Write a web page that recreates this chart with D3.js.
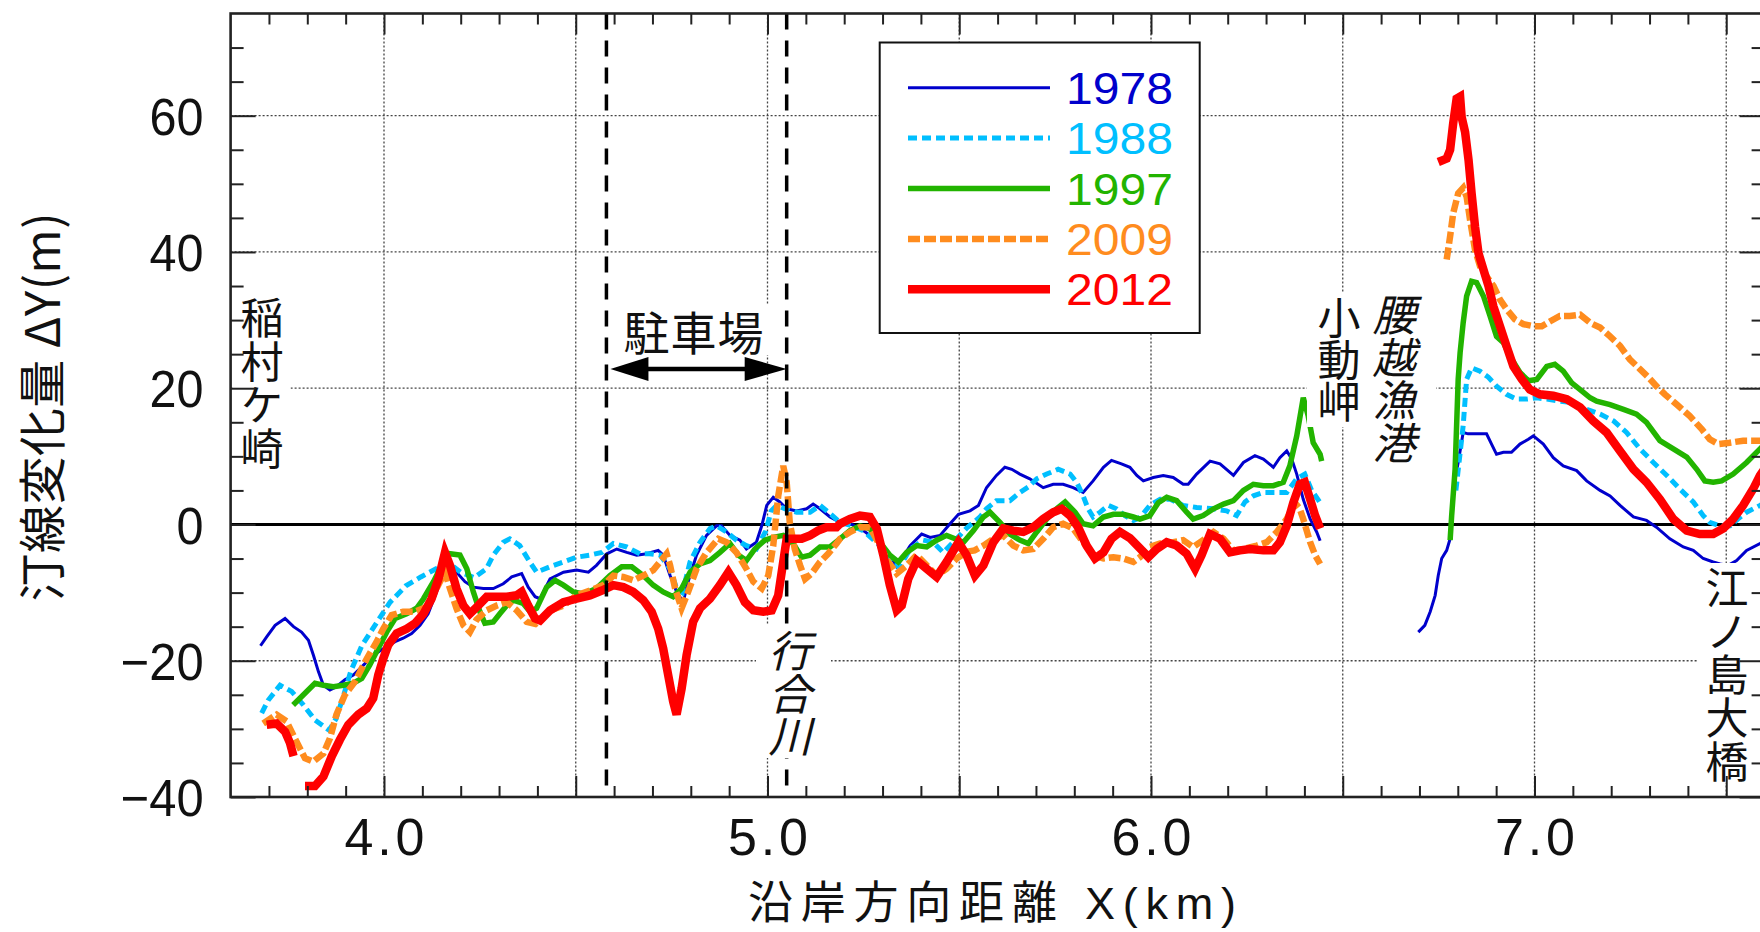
<!DOCTYPE html>
<html>
<head>
<meta charset="utf-8">
<script src="https://cdn.jsdelivr.net/npm/d3@7"></script>
<style>
  body { margin: 0; background: #fff; }
  svg { display: block; }
</style>
</head>
<body>
<svg id="chart" width="1760" height="932"></svg>
<script>
// ---- Data: shoreline change ΔY (m) along the coast X (km) ----
const years = ["1978", "1988", "1997", "2009", "2012"];

const y1978West = [[3.678,-17.8],[3.694,-16.5],[3.716,-14.8],[3.742,-13.8],[3.764,-15.0],[3.785,-15.8],[3.803,-17.0],[3.816,-19.2],[3.829,-21.6],[3.842,-23.6],[3.859,-24.3],[3.876,-23.8],[3.898,-22.8],[3.920,-22.1],[3.942,-20.9],[3.963,-19.7],[3.985,-18.7],[4.007,-17.9],[4.029,-17.2],[4.050,-16.7],[4.072,-16.0],[4.094,-14.8],[4.115,-13.1],[4.137,-9.9],[4.155,-7.0],[4.170,-5.5],[4.189,-7.0],[4.211,-8.4],[4.233,-9.2],[4.259,-9.4],[4.285,-9.4],[4.311,-8.7],[4.333,-7.7],[4.359,-7.2],[4.376,-9.2],[4.394,-10.6],[4.407,-10.9],[4.433,-8.0],[4.468,-7.0],[4.502,-6.7],[4.533,-7.0],[4.554,-6.0],[4.581,-4.3],[4.607,-3.6],[4.633,-4.1],[4.659,-4.5],[4.685,-4.3],[4.715,-3.8],[4.728,-4.5],[4.746,-7.5],[4.763,-9.9],[4.780,-11.4],[4.793,-8.4],[4.815,-4.5],[4.841,-1.6],[4.867,-0.2],[4.880,-0.2],[4.902,-1.6],[4.928,-2.3],[4.945,-3.6],[4.971,-2.6],[4.985,-0.2],[4.998,2.8],[5.015,4.0],[5.032,3.3],[5.050,2.3],[5.076,2.0],[5.102,2.3],[5.119,3.0],[5.137,2.3],[5.163,1.1],[5.189,0.3],[5.220,0.0],[5.250,-0.9],[5.290,-2.6],[5.315,-4.1],[5.337,-6.2],[5.372,-3.1],[5.402,-1.4],[5.424,-1.9],[5.450,-1.6],[5.476,0.1],[5.498,1.5],[5.528,2.0],[5.550,2.8],[5.571,5.4],[5.597,7.2],[5.619,8.4],[5.637,8.1],[5.658,7.4],[5.684,6.7],[5.719,5.4],[5.745,5.9],[5.771,5.9],[5.797,5.4],[5.823,4.7],[5.849,6.4],[5.876,8.4],[5.897,9.4],[5.923,8.9],[5.945,8.4],[5.963,7.2],[5.980,6.4],[6.006,6.9],[6.032,7.2],[6.058,6.9],[6.084,5.9],[6.097,5.9],[6.119,7.4],[6.154,9.3],[6.180,8.9],[6.215,7.2],[6.241,9.1],[6.271,10.1],[6.293,9.6],[6.319,8.4],[6.336,9.8],[6.354,10.8],[6.367,9.6],[6.380,7.4],[6.397,3.7],[6.415,0.8],[6.432,-1.1],[6.441,-2.4]];
const y1978East = [[6.697,-15.8],[6.714,-14.8],[6.728,-12.8],[6.741,-10.4],[6.749,-7.5],[6.758,-5.0],[6.771,-3.8],[6.780,-2.1],[6.788,5.2],[6.801,9.1],[6.814,13.5],[6.827,13.3],[6.849,13.3],[6.875,13.3],[6.888,11.8],[6.901,10.3],[6.919,10.6],[6.940,10.6],[6.962,11.8],[6.984,12.5],[6.997,13.0],[7.023,11.8],[7.049,9.8],[7.075,8.6],[7.110,7.9],[7.136,6.4],[7.171,5.0],[7.197,4.2],[7.223,2.8],[7.258,1.1],[7.292,0.6],[7.318,-0.4],[7.353,-2.1],[7.388,-3.3],[7.414,-3.8],[7.440,-5.0],[7.466,-5.5],[7.484,-5.8],[7.505,-6.0],[7.527,-5.3],[7.553,-3.8],[7.588,-2.8],[7.610,-2.0]];

const y1988West = [[3.681,-27.7],[3.698,-25.8],[3.729,-23.6],[3.759,-24.5],[3.790,-26.5],[3.820,-28.7],[3.857,-30.2],[3.875,-28.5],[3.892,-25.6],[3.913,-21.6],[3.942,-17.8],[3.982,-14.3],[4.016,-11.4],[4.057,-9.0],[4.096,-7.7],[4.136,-6.5],[4.165,-5.5],[4.200,-7.0],[4.235,-7.8],[4.267,-6.5],[4.285,-4.5],[4.311,-2.6],[4.328,-2.1],[4.354,-3.1],[4.380,-5.5],[4.398,-7.0],[4.433,-6.2],[4.468,-5.5],[4.502,-4.8],[4.537,-4.5],[4.568,-4.1],[4.598,-2.8],[4.633,-3.3],[4.667,-4.3],[4.693,-4.3],[4.720,-4.5],[4.746,-6.5],[4.763,-9.4],[4.778,-10.0],[4.798,-5.5],[4.824,-2.6],[4.850,-0.6],[4.867,-0.2],[4.893,-1.1],[4.919,-2.3],[4.945,-3.1],[4.971,-3.6],[4.995,-1.0],[5.010,2.0],[5.024,2.8],[5.050,2.2],[5.076,1.8],[5.111,1.8],[5.137,2.8],[5.163,1.6],[5.189,0.3],[5.220,-0.2],[5.250,-0.9],[5.293,-3.1],[5.328,-6.0],[5.345,-6.2],[5.372,-3.6],[5.406,-2.3],[5.432,-2.6],[5.458,-4.1],[5.493,-2.1],[5.520,-0.5],[5.554,1.1],[5.571,2.3],[5.597,3.5],[5.632,3.5],[5.658,4.7],[5.680,5.5],[5.702,6.7],[5.728,7.4],[5.758,8.1],[5.789,7.4],[5.806,6.2],[5.823,4.2],[5.836,2.3],[5.849,1.1],[5.867,1.8],[5.889,2.8],[5.910,2.3],[5.932,1.3],[5.954,0.6],[5.971,1.0],[5.997,2.8],[6.024,3.7],[6.050,3.7],[6.084,2.8],[6.119,2.5],[6.163,2.3],[6.197,2.0],[6.223,1.3],[6.245,3.3],[6.267,4.2],[6.293,4.7],[6.328,4.7],[6.354,4.7],[6.380,6.7],[6.401,7.4],[6.419,5.0],[6.441,3.2]];
const y1988East = [[6.795,5.0],[6.805,10.0],[6.814,14.5],[6.823,21.3],[6.836,23.0],[6.858,22.5],[6.880,21.6],[6.901,20.3],[6.927,19.1],[6.953,18.4],[6.979,18.4],[7.006,18.6],[7.032,18.4],[7.066,18.1],[7.101,17.9],[7.136,16.9],[7.171,16.2],[7.206,15.2],[7.240,13.5],[7.275,11.1],[7.310,9.1],[7.345,7.2],[7.379,5.2],[7.414,3.3],[7.440,1.3],[7.457,0.3],[7.483,-0.2],[7.510,-0.2],[7.530,0.8],[7.553,1.8],[7.588,2.8],[7.610,3.5]];

const y1997West = [[3.763,-26.5],[3.790,-25.0],[3.820,-23.3],[3.842,-23.6],[3.868,-23.8],[3.894,-23.6],[3.920,-23.3],[3.942,-22.6],[3.963,-20.6],[3.985,-18.2],[4.007,-15.8],[4.029,-13.8],[4.059,-13.1],[4.085,-12.3],[4.103,-10.9],[4.129,-8.4],[4.155,-5.5],[4.172,-4.3],[4.198,-4.5],[4.216,-6.5],[4.233,-9.9],[4.250,-12.8],[4.263,-14.5],[4.285,-14.3],[4.302,-13.1],[4.320,-11.9],[4.337,-11.1],[4.363,-11.6],[4.381,-12.8],[4.398,-12.3],[4.424,-9.2],[4.446,-8.2],[4.468,-8.9],[4.494,-9.9],[4.520,-10.2],[4.554,-9.4],[4.589,-7.5],[4.620,-6.2],[4.646,-6.2],[4.676,-7.5],[4.702,-8.9],[4.728,-9.9],[4.754,-10.6],[4.776,-9.4],[4.798,-7.0],[4.824,-5.8],[4.850,-5.3],[4.876,-4.1],[4.902,-2.8],[4.924,-4.5],[4.945,-5.3],[4.967,-3.6],[4.993,-2.3],[5.015,-1.9],[5.041,-1.6],[5.067,-2.8],[5.089,-4.8],[5.111,-4.5],[5.137,-3.3],[5.163,-3.3],[5.189,-2.1],[5.215,-0.9],[5.241,-0.2],[5.267,-0.6],[5.293,-2.6],[5.319,-4.5],[5.341,-5.5],[5.363,-4.1],[5.389,-3.1],[5.415,-3.3],[5.441,-2.3],[5.467,-1.6],[5.489,-2.1],[5.511,-2.6],[5.537,-0.9],[5.563,1.1],[5.580,1.8],[5.606,0.3],[5.632,-1.4],[5.658,-2.3],[5.680,-2.8],[5.702,-1.1],[5.728,0.8],[5.754,2.3],[5.776,3.3],[5.802,1.8],[5.823,0.1],[5.849,-0.2],[5.876,1.1],[5.902,1.5],[5.928,1.5],[5.954,1.1],[5.971,0.8],[5.997,1.3],[6.019,3.2],[6.041,4.0],[6.067,3.5],[6.093,1.8],[6.110,0.8],[6.136,1.3],[6.163,2.3],[6.189,3.0],[6.215,3.5],[6.241,5.0],[6.267,5.9],[6.293,5.7],[6.319,5.7],[6.345,6.2],[6.362,8.6],[6.380,13.0],[6.397,18.6],[6.410,15.9],[6.423,12.0],[6.441,10.3],[6.445,9.3]];
const y1997East = [[6.780,-2.3],[6.784,1.3],[6.793,8.1],[6.801,21.3],[6.806,25.2],[6.814,29.6],[6.823,33.5],[6.836,35.7],[6.849,35.5],[6.867,33.5],[6.884,30.6],[6.901,27.6],[6.919,26.7],[6.936,24.7],[6.962,22.3],[6.984,21.1],[7.006,21.3],[7.032,23.2],[7.053,23.5],[7.075,22.5],[7.097,20.8],[7.119,19.8],[7.145,18.6],[7.162,18.1],[7.197,17.6],[7.232,16.9],[7.266,16.2],[7.292,15.0],[7.327,12.3],[7.362,11.1],[7.397,9.9],[7.423,8.1],[7.444,6.4],[7.466,6.2],[7.488,6.4],[7.518,7.4],[7.553,9.1],[7.588,11.1],[7.610,12.3]];

const y2009West = [[3.685,-29.2],[3.720,-27.9],[3.746,-28.9],[3.772,-31.9],[3.794,-34.3],[3.816,-34.8],[3.842,-33.6],[3.859,-31.4],[3.876,-27.9],[3.898,-25.0],[3.924,-23.1],[3.955,-19.7],[3.981,-17.2],[3.998,-15.3],[4.020,-13.3],[4.050,-12.8],[4.081,-12.8],[4.111,-12.1],[4.137,-9.4],[4.159,-7.0],[4.172,-9.4],[4.189,-12.3],[4.207,-14.8],[4.224,-15.8],[4.241,-14.0],[4.268,-12.6],[4.294,-11.9],[4.320,-11.4],[4.346,-12.6],[4.372,-14.3],[4.395,-14.6],[4.407,-14.1],[4.433,-12.6],[4.468,-11.9],[4.502,-10.4],[4.537,-9.7],[4.572,-8.9],[4.598,-7.5],[4.624,-7.7],[4.650,-8.2],[4.676,-7.5],[4.702,-6.7],[4.737,-4.3],[4.746,-6.0],[4.759,-9.4],[4.776,-12.3],[4.793,-9.9],[4.815,-6.5],[4.841,-4.1],[4.872,-2.1],[4.893,-2.6],[4.919,-4.1],[4.945,-6.5],[4.963,-8.4],[4.985,-9.4],[5.002,-7.5],[5.015,-3.1],[5.028,4.2],[5.041,8.6],[5.050,6.2],[5.058,0.3],[5.071,-3.6],[5.085,-6.0],[5.098,-8.0],[5.115,-7.2],[5.137,-5.5],[5.158,-4.3],[5.180,-2.8],[5.189,-2.1],[5.215,-1.1],[5.241,-0.4],[5.267,-0.4],[5.293,-3.1],[5.315,-5.5],[5.337,-7.2],[5.363,-6.0],[5.389,-4.5],[5.415,-6.0],[5.441,-7.5],[5.467,-6.5],[5.493,-5.0],[5.520,-4.0],[5.540,-3.8],[5.563,-3.1],[5.589,-2.1],[5.615,-1.6],[5.641,-3.1],[5.667,-3.8],[5.693,-3.6],[5.719,-2.1],[5.745,-0.4],[5.771,0.1],[5.797,-0.6],[5.823,-2.6],[5.849,-4.5],[5.876,-5.0],[5.902,-4.8],[5.928,-5.0],[5.954,-5.5],[5.971,-4.8],[5.997,-3.3],[6.024,-2.8],[6.058,-2.6],[6.084,-2.3],[6.110,-3.3],[6.136,-2.3],[6.163,-1.1],[6.189,-2.1],[6.215,-3.8],[6.241,-3.6],[6.276,-3.1],[6.302,-2.6],[6.328,-1.1],[6.354,0.8],[6.375,3.2],[6.388,2.3],[6.397,0.8],[6.415,-2.6],[6.428,-4.5],[6.441,-5.8]];
const y2009East = [[6.771,38.9],[6.780,42.3],[6.788,45.7],[6.801,48.6],[6.814,49.4],[6.823,48.1],[6.832,44.7],[6.845,40.3],[6.858,37.9],[6.875,36.4],[6.893,35.0],[6.910,33.0],[6.927,31.6],[6.949,30.1],[6.971,29.4],[6.997,29.1],[7.019,29.1],[7.040,29.8],[7.066,30.6],[7.092,30.6],[7.119,30.8],[7.145,29.6],[7.171,28.9],[7.197,27.6],[7.223,26.2],[7.249,24.2],[7.275,22.8],[7.297,21.6],[7.318,20.3],[7.340,19.1],[7.371,17.6],[7.405,15.9],[7.436,14.0],[7.457,12.5],[7.479,11.8],[7.509,12.0],[7.544,12.3],[7.588,12.3],[7.610,12.3]];

const y2012WestA = [[3.694,-29.4],[3.720,-29.2],[3.742,-30.4],[3.755,-32.1],[3.764,-34.0]];
const y2012WestB = [[3.794,-38.4],[3.820,-38.4],[3.842,-37.0],[3.864,-34.0],[3.885,-31.6],[3.907,-29.4],[3.933,-27.9],[3.955,-27.0],[3.972,-25.5],[3.985,-22.1],[3.998,-19.7],[4.011,-17.7],[4.033,-16.0],[4.059,-15.3],[4.081,-14.5],[4.103,-13.1],[4.124,-10.9],[4.142,-8.0],[4.159,-4.1],[4.172,-6.0],[4.189,-9.4],[4.207,-11.9],[4.224,-13.1],[4.246,-11.9],[4.268,-10.6],[4.294,-10.6],[4.320,-10.6],[4.346,-10.4],[4.359,-9.9],[4.376,-11.9],[4.394,-13.8],[4.407,-14.1],[4.433,-12.6],[4.468,-11.4],[4.502,-10.9],[4.537,-10.4],[4.568,-9.7],[4.598,-8.9],[4.624,-9.2],[4.650,-9.9],[4.676,-11.1],[4.698,-12.8],[4.715,-15.3],[4.728,-18.2],[4.741,-22.1],[4.754,-26.0],[4.763,-27.9],[4.776,-24.1],[4.789,-19.2],[4.806,-14.3],[4.824,-12.3],[4.850,-10.9],[4.876,-8.9],[4.898,-7.0],[4.919,-8.9],[4.941,-11.4],[4.963,-12.6],[4.989,-12.8],[5.011,-12.6],[5.028,-10.4],[5.041,-5.5],[5.050,-2.1],[5.067,-2.1],[5.089,-2.1],[5.111,-1.6],[5.132,-0.9],[5.154,-0.4],[5.180,-0.4],[5.189,0.1],[5.215,0.8],[5.241,1.3],[5.267,1.1],[5.285,-0.6],[5.302,-4.5],[5.319,-8.9],[5.337,-12.6],[5.350,-11.9],[5.367,-8.0],[5.389,-5.3],[5.415,-6.5],[5.441,-7.7],[5.467,-5.5],[5.498,-2.6],[5.519,-4.5],[5.541,-7.5],[5.563,-6.0],[5.589,-2.6],[5.615,-0.6],[5.641,-0.9],[5.667,-1.1],[5.693,-0.4],[5.719,0.8],[5.745,1.8],[5.767,2.3],[5.789,1.3],[5.810,-0.4],[5.832,-3.1],[5.854,-5.0],[5.876,-4.1],[5.897,-2.1],[5.919,-1.1],[5.945,-2.0],[5.971,-3.5],[5.993,-4.8],[6.015,-3.6],[6.041,-2.6],[6.067,-3.1],[6.093,-4.3],[6.115,-6.5],[6.132,-4.5],[6.154,-1.4],[6.180,-2.1],[6.206,-4.1],[6.232,-3.8],[6.258,-3.6],[6.293,-3.8],[6.319,-3.8],[6.336,-2.6],[6.354,-0.2],[6.371,3.2],[6.388,5.9],[6.401,6.2],[6.415,3.7],[6.428,1.3],[6.441,-0.6]];
const y2012East = [[6.749,53.2],[6.771,53.7],[6.780,55.0],[6.788,58.9],[6.797,62.5],[6.806,62.8],[6.810,59.8],[6.819,57.6],[6.828,53.5],[6.836,48.6],[6.845,43.7],[6.854,39.8],[6.867,37.4],[6.880,35.0],[6.893,32.0],[6.910,29.1],[6.927,26.2],[6.945,23.2],[6.967,21.3],[6.988,19.8],[7.014,19.1],[7.049,18.9],[7.084,18.4],[7.119,17.2],[7.153,15.2],[7.188,13.5],[7.223,10.8],[7.258,8.1],[7.292,6.2],[7.327,3.7],[7.362,0.8],[7.397,-0.9],[7.431,-1.4],[7.466,-1.4],[7.492,-0.6],[7.518,0.8],[7.544,2.8],[7.570,5.2],[7.588,7.2],[7.610,9.0]];

// axis ticks (km / m)
const xLabelTicks = [4.0, 5.0, 6.0, 7.0];
const yLabelTicks = [-40, -20, 0, 20, 40, 60];
const parkingBounds = [4.58, 5.05];

// ---- Styles ----
const seriesStyle = {
  "1978": { color: "#0000CC", width: 3,   dash: null },
  "1988": { color: "#00BFFF", width: 5,   dash: "9,5" },
  "1997": { color: "#22B400", width: 5.5, dash: null },
  "2009": { color: "#FF8C1E", width: 6.5, dash: "12,4" },
  "2012": { color: "#FF0000", width: 8.5, dash: null }
};
const seriesSegments = {
  "1978": [y1978West, y1978East],
  "1988": [y1988West, y1988East],
  "1997": [y1997West, y1997East],
  "2009": [y2009West, y2009East],
  "2012": [y2012WestA, y2012WestB, y2012East]
};

const NUM_FONT = "'Liberation Sans', Arial, sans-serif";
const JP_FONT = "'Noto Sans CJK JP', 'Noto Sans', sans-serif";
const TITLE_FONT = "'Liberation Sans', 'Noto Sans CJK JP', sans-serif";

const svg = d3.select("#chart");
svg.append("rect").attr("width", 1760).attr("height", 932).attr("fill", "#fff");

const x = d3.scaleLinear().domain([3.6, 7.6]).range([230.6, 1764.6]);
const y = d3.scaleLinear().domain([-40, 75]).range([797, 13.5]);
const [x0, x1] = x.range();
const [yb, yt] = y.range();

// ---- grid ----
const xGrid = d3.range(8, 16).map(i => i / 2);          // 4.0 .. 7.5
const yGrid = [-20, 20, 40, 60];
const grid = svg.append("g").attr("stroke", "#444").attr("stroke-width", 1.3)
  .attr("stroke-dasharray", "2,2").attr("fill", "none");
grid.selectAll("line.v").data(xGrid).join("line").attr("class", "v")
  .attr("x1", d => x(d)).attr("x2", d => x(d)).attr("y1", yt).attr("y2", yb);
grid.selectAll("line.h").data(yGrid).join("line").attr("class", "h")
  .attr("x1", x0).attr("x2", x1).attr("y1", d => y(d)).attr("y2", d => y(d));

// zero line
svg.append("line").attr("x1", x0).attr("x2", x1).attr("y1", y(0)).attr("y2", y(0))
  .attr("stroke", "#000").attr("stroke-width", 3);

// ---- data lines ----
const line = d3.line().x(d => x(d[0])).y(d => y(d[1]));
const gLines = svg.append("g").attr("fill", "none");
years.forEach(yr => {
  const st = seriesStyle[yr];
  seriesSegments[yr].forEach(seg => {
    gLines.append("path").datum(seg).attr("d", line)
      .attr("stroke", st.color).attr("stroke-width", st.width)
      .attr("stroke-dasharray", st.dash)
      .attr("stroke-linejoin", "miter");
  });
});

// ---- parking section: dashed bounds ----
svg.append("g").selectAll("line").data(parkingBounds).join("line")
  .attr("x1", d => x(d)).attr("x2", d => x(d)).attr("y1", yt).attr("y2", yb)
  .attr("stroke", "#000").attr("stroke-width", 3.5).attr("stroke-dasharray", "16,11");

// ---- place-name labels with white backing ----
const labels = svg.append("g");
function box(x_, y_, w, h) {
  labels.append("rect").attr("x", x_).attr("y", y_).attr("width", w).attr("height", h).attr("fill", "#fff");
}
// vertical (top-to-bottom) label; cx = column centre, top = top of first character
function vtext(str, cx, top, pitch, fs, italic) {
  labels.append("text")
    .attr("x", cx).attr("y", top)
    .style("writing-mode", "vertical-rl")
    .style("text-orientation", "upright")
    .attr("letter-spacing", pitch - fs)
    .attr("font-family", JP_FONT).attr("font-size", fs)
    .attr("font-style", italic ? "italic" : "normal")
    .attr("fill", "#111").text(str);
}
box(232.5, 293, 58, 178);
vtext("稲村ケ崎", 262, 296.5, 43.5, 43, false);

box(612, 304, 160, 51);
labels.append("text").attr("x", 694).attr("y", 330)
  .attr("text-anchor", "middle").attr("dominant-baseline", "central")
  .attr("font-family", JP_FONT).attr("font-size", 46).attr("letter-spacing", 1)
  .attr("fill", "#111").text("駐車場");

box(756, 625, 75, 133);
vtext("行合川", 790, 629.5, 42.5, 43, true);

box(1307, 293, 62, 134);
vtext("小動岬", 1339, 296.5, 42, 43, false);

box(1369, 285, 67, 182);
vtext("腰越漁港", 1394, 293.5, 42.5, 43, true);

box(1697, 563, 70, 220);
vtext("江ノ島大橋", 1727, 566.5, 43.3, 43, false);

// double-headed arrow across the parking section
const ax0 = x(parkingBounds[0]) + 4, ax1 = x(parkingBounds[1]), ay = 369;
const arrow = svg.append("g").attr("fill", "#000");
arrow.append("line").attr("x1", ax0 + 30).attr("x2", ax1 - 30).attr("y1", ay).attr("y2", ay)
  .attr("stroke", "#000").attr("stroke-width", 4.5);
arrow.append("path").attr("d", `M${ax0},${ay} L${ax0 + 38},${ay - 12} L${ax0 + 38},${ay + 12} Z`);
arrow.append("path").attr("d", `M${ax1},${ay} L${ax1 - 42},${ay - 12} L${ax1 - 42},${ay + 12} Z`);

// ---- legend ----
const legend = svg.append("g");
legend.append("rect").attr("x", 879.7).attr("y", 42.5).attr("width", 320).attr("height", 290.5)
  .attr("fill", "#fff").attr("stroke", "#111").attr("stroke-width", 2);
years.forEach((yr, i) => {
  const st = seriesStyle[yr];
  const ly = 87.7 + i * 50.4;
  legend.append("line").attr("x1", 908).attr("x2", 1050).attr("y1", ly).attr("y2", ly)
    .attr("stroke", st.color).attr("stroke-width", st.width).attr("stroke-dasharray", st.dash);
  legend.append("text")
    .attr("x", 1066).attr("y", ly + 16)
    .attr("font-family", NUM_FONT).attr("font-size", 45)
    .attr("textLength", 107).attr("lengthAdjust", "spacingAndGlyphs")
    .attr("fill", st.color).text(yr);
});

// ---- axes (ticks point inward on all four sides) ----
const xMajor = xGrid;
const xMinor = d3.range(37, 77).filter(i => i % 5 !== 0).map(i => i / 10);
const yMajor = yLabelTicks;
const yMinor = d3.range(-35, 75, 5).filter(v => v % 20 !== 0);

function styleAxis(g) {
  g.select(".domain").remove();
  g.selectAll(".tick line").attr("stroke", "#222").attr("stroke-width", 2);
  g.selectAll(".tick text").remove();
}
svg.append("g").attr("transform", `translate(0,${yb})`)
  .call(d3.axisBottom(x).tickValues(xMajor).tickSize(-21)).call(styleAxis);
svg.append("g").attr("transform", `translate(0,${yb})`)
  .call(d3.axisBottom(x).tickValues(xMinor).tickSize(-11)).call(styleAxis);
svg.append("g").attr("transform", `translate(0,${yt})`)
  .call(d3.axisTop(x).tickValues(xMajor).tickSize(-21)).call(styleAxis);
svg.append("g").attr("transform", `translate(0,${yt})`)
  .call(d3.axisTop(x).tickValues(xMinor).tickSize(-11)).call(styleAxis);
svg.append("g").attr("transform", `translate(${x0},0)`)
  .call(d3.axisLeft(y).tickValues(yMajor).tickSize(-25)).call(styleAxis);
svg.append("g").attr("transform", `translate(${x0},0)`)
  .call(d3.axisLeft(y).tickValues(yMinor).tickSize(-13)).call(styleAxis);
svg.append("g").attr("transform", `translate(${x1},0)`)
  .call(d3.axisRight(y).tickValues(yMajor).tickSize(-25)).call(styleAxis);
svg.append("g").attr("transform", `translate(${x1},0)`)
  .call(d3.axisRight(y).tickValues(yMinor).tickSize(-13)).call(styleAxis);

// frame
svg.append("rect").attr("x", x0).attr("y", yt).attr("width", x1 - x0).attr("height", yb - yt)
  .attr("fill", "none").attr("stroke", "#222").attr("stroke-width", 2.6);

// tick labels
const xLab = svg.append("g").attr("transform", `translate(0,${yb})`)
  .call(d3.axisBottom(x).tickValues(xLabelTicks).tickSize(0).tickFormat(d3.format(".1f")));
xLab.select(".domain").remove();
xLab.selectAll("text").attr("y", 58).attr("dy", null)
  .attr("font-family", NUM_FONT).attr("font-size", 52).attr("fill", "#111")
  .attr("textLength", 80).attr("lengthAdjust", "spacing");

const yLab = svg.append("g").attr("transform", `translate(${x0},0)`)
  .call(d3.axisLeft(y).tickValues(yLabelTicks).tickSize(0).tickPadding(27).tickFormat(d3.format("d")));
yLab.select(".domain").remove();
yLab.selectAll("text").attr("dy", "0.36em")
  .attr("font-family", NUM_FONT).attr("font-size", 52).attr("fill", "#111")
  .each(function(d) {
    const s = d3.format("d")(d);
    d3.select(this).attr("textLength", s.length === 1 ? 27 : (s.length === 2 ? 54 : 83))
      .attr("lengthAdjust", "spacingAndGlyphs");
  });

// axis titles
svg.append("text")
  .attr("transform", "translate(39,407) rotate(-90)")
  .attr("text-anchor", "middle").attr("dominant-baseline", "central")
  .attr("font-family", JP_FONT).attr("font-size", 48).attr("fill", "#111")
  .attr("textLength", 389).attr("lengthAdjust", "spacing")
  .text("汀線変化量 ΔY(m)");

svg.append("text")
  .attr("x", 992).attr("y", 919)
  .attr("text-anchor", "middle")
  .attr("font-family", TITLE_FONT).attr("font-size", 45).attr("fill", "#111")
  .attr("textLength", 488).attr("lengthAdjust", "spacing")
  .text("沿岸方向距離 X(km)");
</script>
</body>
</html>
